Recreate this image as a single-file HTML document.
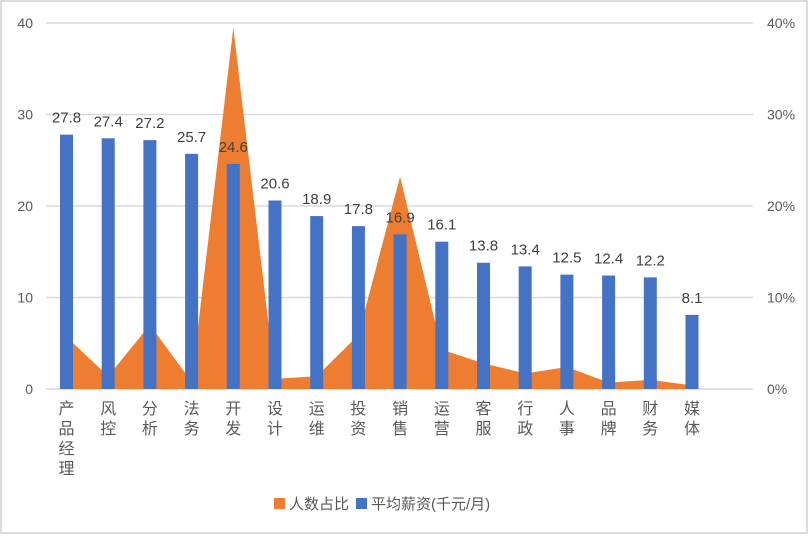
<!DOCTYPE html>
<html><head><meta charset="utf-8"><style>
body{margin:0;background:#fff;}
svg text{font-family:"Liberation Sans","Noto Sans CJK SC",sans-serif;}
</style></head><body>
<svg width="810" height="536" viewBox="0 0 810 536">
<rect x="1" y="1" width="806" height="532" fill="#fff" stroke="#d0d0d0" stroke-width="1.5"/>
<g id="grid"></g><g id="area"></g><g id="bars"></g><g id="labels"></g><g id="axes"></g>
<g>
<rect x="274" y="498" width="11" height="11" fill="#ED7D31"/>
<text x="289" y="509" font-size="15" fill="#595959">人数占比</text>
<rect x="356" y="498" width="11" height="11" fill="#4472C4"/>
<text x="371" y="509" font-size="15" fill="#595959">平均薪资(千元/月)</text>
</g>
</svg>
<script>
const categories=["产品经理","风控","分析","法务","开发","设计","运维","投资","销售","运营","客服","行政","人事","品牌","财务","媒体"];
const salary=[27.8,27.4,27.2,25.7,24.6,20.6,18.9,17.8,16.9,16.1,13.8,13.4,12.5,12.4,12.2,8.1];
const ratio=[5.7,1.4,7.0,0.8,39.5,1.1,1.4,5.9,23.2,4.3,2.8,1.7,2.4,0.7,1.0,0.4];
const leftTicks=[0,10,20,30,40];
const rightTicks=["0%","10%","20%","30%","40%"];
const NS="http://www.w3.org/2000/svg";
const y0=389,yTop=23,x0=66.5,dx=41.7;
const yL=v=>y0-(v/40)*(y0-yTop);
const yR=p=>y0-(p/40)*(y0-yTop);
const xC=i=>x0+dx*i;
function mk(t,a,p){const e=document.createElementNS(NS,t);for(const k in a)e.setAttribute(k,a[k]);document.getElementById(p).appendChild(e);return e;}
leftTicks.forEach((v,i)=>{
 const l=mk("line",{x1:46,x2:753,y1:yL(v),y2:yL(v),stroke:"#d9d9d9","stroke-width":1.5},"grid");
 
 
 const t=mk("text",{x:33,y:yL(v)+5,"font-size":14,fill:"#595959","text-anchor":"end"},"axes");t.textContent=v;
 
 
 const r=mk("text",{x:767,y:yL(v)+5,"font-size":14,fill:"#595959"},"axes");r.textContent=rightTicks[i];
 
 
});
let d="M"+xC(0)+","+y0;
ratio.forEach((p,i)=>{d+=" L"+xC(i)+","+yR(p);});
d+=" L"+xC(ratio.length-1)+","+y0+" Z";
const a=mk("path",{d:d,fill:"#ED7D31"},"area");


salary.forEach((v,i)=>{
 const b=mk("rect",{x:xC(i)-6.5,y:yL(v),width:13,height:y0-yL(v),fill:"#4472C4"},"bars");
 
 
 const t=mk("text",{x:xC(i),y:yL(v)-12,"font-size":15,fill:"#404040","text-anchor":"middle","font-family":"Liberation Mono, monospace"},"labels");
 t.textContent=v.toFixed(1);
 
 
 const chars=categories[i].split("");
 chars.forEach((c,j)=>{
  const ct=mk("text",{x:xC(i),y:414+j*20,"font-size":16,fill:"#595959","text-anchor":"middle"},"axes");
  ct.textContent=c;
  
  
 });
});
</script>
</body></html>
